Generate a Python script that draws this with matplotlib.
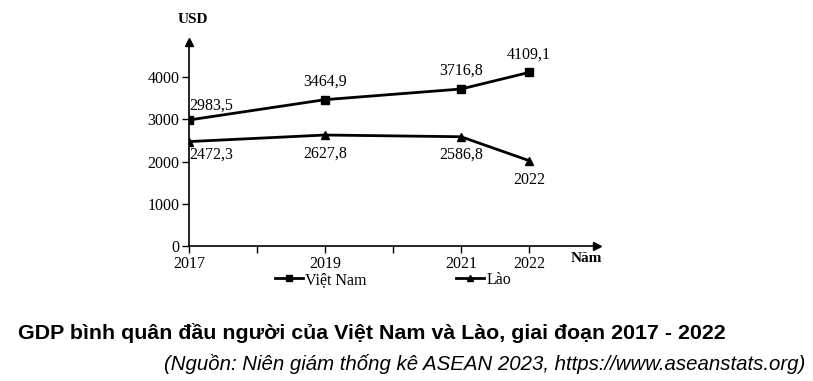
import matplotlib.pyplot as plt
from matplotlib.lines import Line2D

years = [2017, 2019, 2021, 2022]
vietnam = [2983.5, 3464.9, 3716.8, 4109.1]
lao = [2472.3, 2627.8, 2586.8, 2022]
vn_labels = ["2983,5", "3464,9", "3716,8", "4109,1"]
lao_labels = ["2472,3", "2627,8", "2586,8", "2022"]
yticks = [0, 1000, 2000, 3000, 4000]

serif = ["Liberation Serif", "DejaVu Serif"]
plt.rcParams["font.family"] = serif

fig = plt.figure(figsize=(8.13, 3.81), dpi=100)
ax = fig.add_axes([189 / 813, 1 - 246 / 381, 408 / 813, 204 / 381])
ax.set_xlim(2017, 2023)
ax.set_ylim(0, 4830)

ax.plot(years, vietnam, color="black", lw=2, marker="s", ms=6)
ax.plot(years, lao, color="black", lw=2, marker="^", ms=6)

# data labels, offsets in points from the marker
vn_off = [(0.5, 10), (0, 13), (0, 13.3), (0, 13)]
vn_ha = ["left", "center", "center", "center"]
for x, y, t, o, h in zip(years, vietnam, vn_labels, vn_off, vn_ha):
    ax.annotate(t, (x, y), xytext=o, textcoords="offset points", ha=h, va="center", fontsize=11.5)
lao_off = [(0.5, -9.6), (0, -13.7), (0, -13), (0, -13.7)]
lao_ha = ["left", "center", "center", "center"]
for x, y, t, o, h in zip(years, lao, lao_labels, lao_off, lao_ha):
    ax.annotate(t, (x, y), xytext=o, textcoords="offset points", ha=h, va="center", fontsize=11.5)

for s in ["top", "right"]:
    ax.spines[s].set_visible(False)
ax.spines["left"].set_linewidth(1.2)
ax.spines["bottom"].set_linewidth(1.2)
# arrow heads
ax.plot(1, 0, ">k", ms=6, transform=ax.transAxes, clip_on=False)
ax.plot(0, 1, "^k", ms=6, transform=ax.transAxes, clip_on=False)

ax.set_yticks(yticks)
ax.set_yticklabels([str(v) for v in yticks])
ax.set_xticks(range(2017, 2023))
ax.set_xticklabels(["2017", "", "2019", "", "2021", "2022"])
ax.tick_params(axis="both", labelsize=11.5, length=5, width=1, direction="out", pad=2)

ax.text(-0.029, 1.108, "USD", transform=ax.transAxes, fontsize=11, fontweight="bold", ha="left", va="center")
ax.text(0.975, -0.059, "Năm", transform=ax.transAxes, fontsize=11, fontweight="bold", ha="center", va="center")

h1 = Line2D([], [], color="black", lw=2, marker="s", ms=5)
h2 = Line2D([], [], color="black", lw=2, marker="^", ms=5)
fig.legend([h1, h2], ["Việt Nam", "Lào"], ncol=2, loc="center", bbox_to_anchor=(393 / 813, 1 - 280 / 381),
           frameon=False, fontsize=11.5, handlelength=1.75, handletextpad=0.15, columnspacing=5.6,
           borderpad=0, borderaxespad=0)

sans = ["Liberation Sans", "DejaVu Sans"]
fig.text(18 / 813, 1 - 333 / 381, "GDP bình quân đầu người của Việt Nam và Lào, giai đoạn 2017 - 2022",
         family=sans, fontsize=15.4, fontweight="bold", ha="left", va="center")
fig.text(805 / 813, 1 - 364 / 381, "(Nguồn: Niên giám thống kê ASEAN 2023, https://www.aseanstats.org)",
         family=sans, fontsize=14.7, style="italic", ha="right", va="center")

fig.savefig("out.png", dpi=100)
